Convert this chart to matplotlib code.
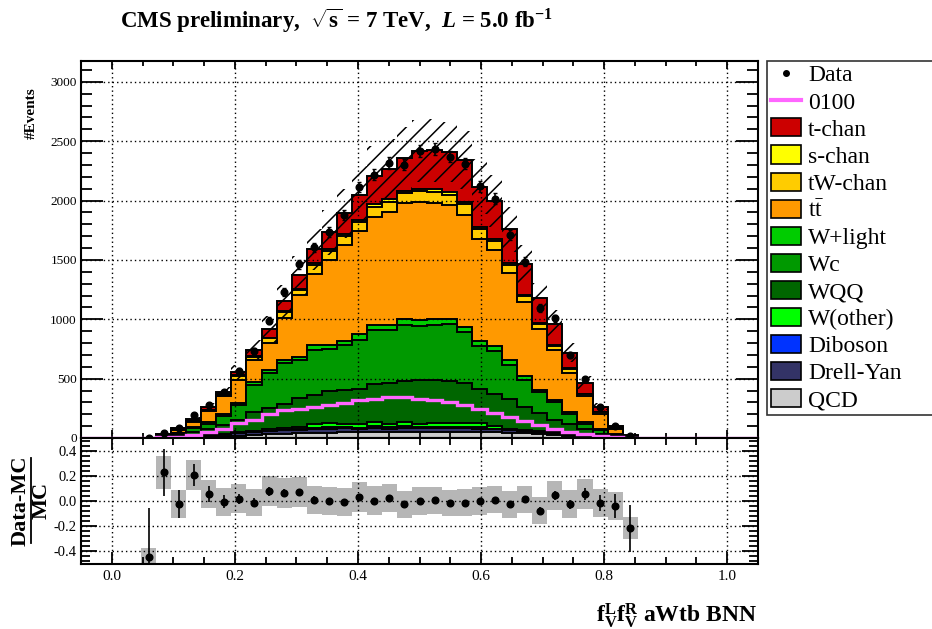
import matplotlib

matplotlib.use("Agg")

import matplotlib.pyplot as plt
from matplotlib.lines import Line2D
from matplotlib.patches import Patch
from matplotlib.ticker import MultipleLocator
import numpy as np

plt.rcParams["font.family"] = ["Liberation Serif", "DejaVu Serif"]
plt.rcParams["mathtext.fontset"] = "custom"
plt.rcParams["mathtext.rm"] = "Liberation Serif:bold"
plt.rcParams["mathtext.bf"] = "Liberation Serif:bold"
plt.rcParams["mathtext.it"] = "Liberation Serif:bold:italic"
plt.rcParams["axes.unicode_minus"] = False
plt.rcParams["hatch.linewidth"] = 1.1

# 45 bins on [-0.05, 1.05]; the lists below start at bin FIRST_BIN
N_BINS = 45
X_LO, X_HI = -0.05, 1.05
FIRST_BIN = 4

qcd = [0.5, 1, 2, 4, 8, 12, 18, 25, 30, 35, 38, 42, 45, 48, 50, 52, 52, 53, 53, 53,
       52, 52, 50, 48, 45, 40, 33, 27, 20, 14, 8, 3, 1, 0.3]
drell_yan = [0.5, 1, 3, 5, 7, 13, 20, 25, 28, 30, 32, 36, 35, 34, 30, 36, 28, 35, 29, 32,
             32, 31, 30, 24, 20, 15, 12, 9, 7, 4, 2, 1, 0.5, 0.2]
diboson = [0, 0, 0, 1, 1, 2, 2, 3, 3, 4, 5, 7, 10, 10, 8, 10, 10, 10, 10, 10,
           10, 10, 10, 8, 5, 5, 3, 2, 1, 1, 1, 0, 0, 0]
w_other = [0.2, 1, 3, 4, 6, 8, 10, 9, 11, 13, 15, 35, 38, 30, 30, 37, 28, 34, 26, 33,
           31, 35, 35, 25, 10, 10, 12, 12, 10, 6, 4, 2, 0.5, 0.2]
wqq = [0.8, 9, 14, 37, 51, 72, 99, 153, 178, 208, 245, 240, 265, 280, 292, 317, 346, 349, 368, 364,
       358, 336, 291, 269, 252, 191, 151, 99, 83, 54, 22, 9, 2, 0.5]
wc = [0.5, 8, 16, 34, 48, 79, 127, 229, 298, 342, 320, 379, 360, 379, 419, 461, 449, 469, 455, 463,
      475, 429, 357, 359, 286, 231, 177, 154, 79, 42, 28, 13, 3, 0.8]
w_light = [0.2, 2, 4, 8, 14, 19, 22, 28, 28, 29, 31, 42, 34, 36, 51, 42, 37, 48, 51, 43,
           48, 43, 42, 40, 37, 31, 20, 15, 19, 14, 8, 3, 1, 0.2]
ttbar = [0.5, 8, 23, 42, 90, 146, 194, 183, 225, 350, 516, 604, 710, 807, 865, 902, 955, 983, 997, 983,
         955, 941, 865, 809, 736, 623, 508, 421, 332, 216, 132, 48, 10, 1.1]
tw_chan = [0.15, 1.6, 5.8, 6.5, 11.5, 14, 30, 27, 37, 49, 47, 70, 76, 76, 78, 92, 85, 80, 92, 92,
           88, 92, 80, 74, 69, 51, 46, 39, 32, 19, 11.5, 4, 0.8, 0.15]
s_chan = [0.05, 0.4, 1.2, 1.5, 2.5, 3, 6, 6, 8, 10, 10, 15, 17, 17, 17, 20, 19, 18, 20, 20,
          19, 20, 18, 16, 15, 11, 10, 9, 7, 4, 2.5, 1, 0.2, 0.05]
t_chan = [0.2, 3, 12, 17, 26, 20, 25, 57, 72, 82, 111, 118, 143, 174, 208, 241, 253, 283, 318, 331,
          339, 351, 337, 323, 284, 256, 210, 177, 129, 93, 45, 17, 4, 0.7]

signal_0100 = [2, 5, 10, 23, 51, 75, 124, 153, 198, 235, 248, 262, 277, 297, 318, 332, 342, 342, 332, 320,
               300, 280, 248, 211, 177, 141, 107, 79, 51, 31, 14, 6, 2, 0.5]

data_counts = [2, 43, 82, 193, 280, 386, 562, 735, 989, 1228, 1465, 1605, 1733, 1876, 2114, 2217, 2316, 2301,
               2419, 2436, 2369, 2310, 2121, 2017, 1713, 1483, 1092, 1007, 700, 493, 260, 97, 18, 0]

# relative MC uncertainty per bin
mc_unc = [0.07, 0.13, 0.115, 0.12, 0.11, 0.11, 0.115, 0.105, 0.12, 0.12, 0.12, 0.11, 0.11, 0.11, 0.117,
          0.112, 0.112, 0.108, 0.108, 0.11, 0.105, 0.105, 0.11, 0.11, 0.108, 0.108, 0.105, 0.118, 0.11,
          0.118, 0.108, 0.108, 0.088, 0.1]

# stack order, bottom to top
samples = [
    ("QCD", qcd, "#cccccc"),
    ("Drell-Yan", drell_yan, "#333366"),
    ("Diboson", diboson, "#0033ff"),
    ("W(other)", w_other, "#00ff00"),
    ("WQQ", wqq, "#006600"),
    ("Wc", wc, "#009900"),
    ("W+light", w_light, "#00cc00"),
    (r"t$\mathregular{\bar{t}}$", ttbar, "#ff9900"),
    ("tW-chan", tw_chan, "#ffcc00"),
    ("s-chan", s_chan, "#ffff00"),
    ("t-chan", t_chan, "#cc0000"),
]


def full(values):
    out = np.zeros(N_BINS)
    out[FIRST_BIN:FIRST_BIN + len(values)] = values
    return out


edges = np.linspace(X_LO, X_HI, N_BINS + 1)
centers = 0.5 * (edges[:-1] + edges[1:])
width = edges[1] - edges[0]

cum = np.cumsum([full(v) for _, v, _ in samples], axis=0)
total = cum[-1]
data = full(data_counts)
unc = full(mc_unc)

W, H = 932, 629
fig = plt.figure(figsize=(W / 100, H / 100), dpi=100)
ax = fig.add_axes([81 / W, 1 - 438 / H, 677 / W, 377 / H])
rax = fig.add_axes([81 / W, 1 - 564 / H, 677 / W, 126 / H])

# stacked backgrounds, drawn from the top layer down
for k in range(len(samples) - 1, -1, -1):
    ax.stairs(cum[k], edges, baseline=0, fill=True, facecolor=samples[k][2],
              edgecolor="black", linewidth=1.4, zorder=2)

ax.stairs(full(signal_0100), edges, color="#ff66ff", linewidth=2.4, zorder=3)

has_mc = total > 0
ax.bar(centers[has_mc], 2 * unc[has_mc] * total[has_mc], bottom=(total * (1 - unc))[has_mc],
       width=width, fill=False, hatch="//", linewidth=0, edgecolor="black", zorder=4)

has_data = data > 0
ax.errorbar(centers[has_data], data[has_data], yerr=np.sqrt(data[has_data]), fmt="o",
            color="black", markersize=4.8, elinewidth=1.2, capsize=1.3, zorder=5)

# ratio panel
ratio = data[has_data] / total[has_data] - 1
ratio_err = np.sqrt(data[has_data]) / total[has_data]
band = unc[has_data]
rax.bar(centers[has_data], 2 * band, bottom=ratio - band, width=width,
        color="#b6b6b6", linewidth=0, zorder=1)
rax.errorbar(centers[has_data], ratio, yerr=ratio_err, fmt="o", color="black",
             markersize=4.8, elinewidth=1.2, capsize=0, zorder=5)

grid_style = dict(linestyle=(0, (1, 2.2)), color="black", linewidth=1.0)
for a in (ax, rax):
    a.set_xlim(X_LO, X_HI)
    a.set_xticks(np.arange(0, 1.01, 0.2))
    a.xaxis.set_minor_locator(MultipleLocator(0.05))
    a.grid(True, which="major", **grid_style)
    a.set_axisbelow(False)
    for s in a.spines.values():
        s.set_linewidth(1.5)
    a.tick_params(which="both", direction="in", top=True, right=True, width=1.3)

ax.set_ylim(0, 3175)
ax.set_yticks(np.arange(0, 3001, 500))
ax.yaxis.set_minor_locator(MultipleLocator(100))
ax.tick_params(axis="x", labelbottom=False)
ax.tick_params(axis="x", which="major", length=5.8)
ax.tick_params(axis="x", which="minor", length=3.6)
ax.tick_params(axis="y", which="major", length=16, labelsize=9.5, pad=3)
ax.tick_params(axis="y", which="minor", length=8)
for g in ax.get_xgridlines() + ax.get_ygridlines():
    g.set_zorder(1.5)

rax.set_ylim(-0.5, 0.5)
rax.set_yticks([-0.4, -0.2, 0.0, 0.2, 0.4])
rax.yaxis.set_minor_locator(MultipleLocator(0.04))
rax.set_yticklabels(["-0.4", "-0.2", "0.0", "0.2", "0.4"])
rax.set_xticklabels(["0.0", "0.2", "0.4", "0.6", "0.8", "1.0"])
rax.tick_params(axis="x", which="major", length=8.6, labelsize=11, pad=4)
rax.tick_params(axis="x", which="minor", length=4.7)
rax.tick_params(axis="y", which="major", length=11.5, labelsize=10.5, pad=3)
rax.tick_params(axis="y", which="minor", length=6.5)

# titles and axis labels
fig.text(120 / W, 1 - 28 / H,
         r"CMS preliminary,  $\sqrt{\mathrm{s}}$ = 7 TeV,  $L$ = 5.0 fb$^{\mathrm{-1}}$",
         fontsize=16.5, fontweight="bold", ha="left", va="baseline")
fig.text(31 / W, 1 - 87 / H, "#Events", rotation=90, fontsize=11, fontweight="bold",
         ha="center", va="top")
fig.text(20.5 / W, 1 - 500.5 / H, "Data-MC", rotation=90, fontsize=16, fontweight="bold",
         ha="center", va="center")
fig.text(42 / W, 1 - 500.5 / H, "MC", rotation=90, fontsize=16, fontweight="bold",
         ha="center", va="center")
fig.add_artist(Line2D([31 / W, 31 / W], [1 - 458 / H, 1 - 543 / H], color="black", linewidth=1.3))
fig.text(757 / W, 1 - 621.7 / H,
         r"$\mathrm{f}_{\mathrm{V}}^{\mathrm{L}}\mathrm{f}_{\mathrm{V}}^{\mathrm{R}}$ aWtb BNN",
         fontsize=17, fontweight="bold", ha="right", va="baseline")

# legend
handles = [Line2D([], [], marker="o", color="black", linestyle="none", markersize=4),
           Line2D([], [], color="#ff66ff", linewidth=3)]
labels = ["Data", "0100"]
for name, _, color in reversed(samples):
    handles.append(Patch(facecolor=color, edgecolor="black", linewidth=1.2))
    labels.append(name)
leg = fig.legend(handles, labels, loc="upper left",
                 bbox_to_anchor=(767 / W, 0, 0.2, 1 - 60.7 / H), mode="expand",
                 borderaxespad=0, fontsize=17, handlelength=1.31, handleheight=0.8,
                 handletextpad=0.28, labelspacing=0.205, borderpad=0.15,
                 fancybox=False, framealpha=1, edgecolor="#333333")
leg.get_frame().set_linewidth(1.2)

fig.savefig("out.png", dpi=100)
plt.close(fig)
